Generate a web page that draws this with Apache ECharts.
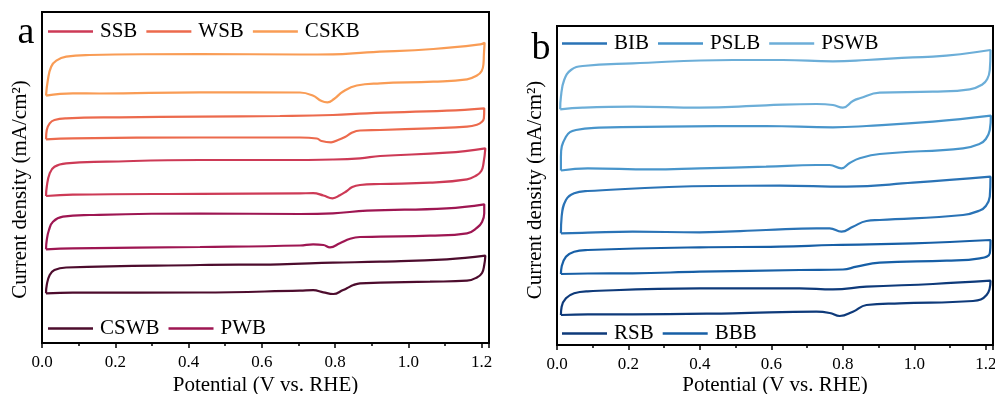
<!DOCTYPE html>
<html><head><meta charset="utf-8">
<script src="https://cdn.jsdelivr.net/npm/echarts@6/dist/echarts.min.js"></script>
<style>html,body{margin:0;padding:0;background:#fff}#c{width:995px;height:394px}</style>
</head><body><div id="c"></div>
<script>
// Potential (V vs. RHE), current density (arbitrary offset units)
const CSKB = [[0.011,247.3],[0.016,263],[0.025,276.3],[0.039,282.3],[0.066,286.3],[0.130,288],[0.431,289],[0.704,288.5],[0.794,288.7],[0.887,290.7],[1.068,294],[1.196,298.7],[1.208,300.3],[1.206,288],[1.205,279.7],[1.200,272],[1.187,267.5],[1.160,263.7],[1.068,261.3],[0.923,259.7],[0.859,257.5],[0.822,251.5],[0.797,244],[0.779,240.7],[0.763,242],[0.739,247.5],[0.704,250.5],[0.431,250.7],[0.157,249.5],[0.084,249.7],[0.011,247.3]];
const WSB = [[0.011,203.7],[0.013,213],[0.021,219.7],[0.034,223],[0.066,224.7],[0.212,225.7],[0.431,226.3],[0.649,227],[0.794,228],[0.887,229.7],[1.105,232.3],[1.207,234.7],[1.206,224.7],[1.200,221],[1.187,218.3],[1.160,216.3],[1.059,214.7],[0.923,213],[0.868,212.5],[0.847,210.5],[0.827,206],[0.808,203],[0.789,200.7],[0.763,202],[0.750,204.5],[0.704,205.5],[0.431,205.5],[0.084,204.7],[0.011,203.7]];
const SSB = [[0.011,147],[0.013,156.3],[0.021,169.7],[0.034,176.3],[0.066,179.7],[0.176,181.3],[0.431,183],[0.649,183],[0.794,183.5],[0.868,184.7],[0.923,187],[1.105,190.3],[1.210,194.7],[1.205,179.7],[1.199,172],[1.185,167.5],[1.160,163.7],[1.059,160.3],[0.923,159],[0.868,158],[0.847,156],[0.830,151.5],[0.813,147.7],[0.793,144.7],[0.768,147.5],[0.740,149.8],[0.704,149.7],[0.431,149.2],[0.084,148.3],[0.011,147]];
const PWB = [[0.011,93.7],[0.013,103],[0.019,113],[0.030,121.3],[0.057,126.3],[0.130,128],[0.431,129.5],[0.704,129],[0.794,129.7],[0.887,132.3],[1.105,134.7],[1.207,138.7],[1.207,129.7],[1.201,121],[1.188,115.5],[1.160,109.7],[1.059,107.3],[0.923,106.3],[0.868,106],[0.841,104.2],[0.813,99.7],[0.786,95.7],[0.768,98],[0.740,98.7],[0.704,97.5],[0.431,96],[0.084,94.7],[0.011,93.7]];
const CSWB = [[0.011,49.7],[0.013,58],[0.021,68],[0.034,73],[0.066,75.5],[0.431,78],[0.649,78.7],[0.794,80.3],[0.923,81.3],[1.105,83.7],[1.210,87.3],[1.207,78],[1.201,70],[1.188,65.8],[1.160,62.3],[1.059,61.3],[0.923,60.3],[0.868,59.7],[0.850,58],[0.832,54.7],[0.822,53],[0.795,49],[0.768,50.7],[0.740,52.8],[0.704,52.3],[0.431,50.5],[0.084,50.3],[0.011,49.7]];

const PSWB = [[0.009,235.7],[0.011,248.3],[0.020,265],[0.039,275],[0.072,279],[0.212,281.7],[0.492,285],[0.632,285],[0.772,283.7],[0.866,285],[0.996,287.7],[1.052,288.3],[1.213,295],[1.211,275],[1.204,266],[1.190,260.5],[1.155,255.7],[1.052,253.3],[0.903,252.3],[0.847,246.7],[0.828,244],[0.800,237.3],[0.772,240],[0.726,241],[0.585,239.7],[0.399,237.3],[0.212,238.3],[0.072,237.3],[0.009,235.7]];
const PSLB = [[0.011,174.5],[0.011,188.3],[0.025,208.3],[0.053,215],[0.118,217.3],[0.305,218.3],[0.585,219],[0.772,217.7],[0.866,219],[1.052,223.3],[1.214,229.3],[1.211,215],[1.200,206],[1.183,201.2],[1.136,196.7],[0.903,191],[0.847,186.7],[0.819,182],[0.796,176.7],[0.763,180],[0.726,180],[0.585,178.3],[0.399,176.7],[0.263,175.7],[0.086,176.7],[0.011,174.5]];
const BIB = [[0.011,111.7],[0.013,128.3],[0.025,145],[0.048,151.7],[0.086,154],[0.441,159],[0.623,159.3],[0.810,158.3],[0.996,162.3],[1.213,168.3],[1.211,148.3],[1.200,139],[1.183,134.5],[1.136,130],[0.903,125],[0.866,124],[0.828,118.3],[0.796,113.3],[0.763,116.7],[0.726,116.7],[0.585,115],[0.399,112.7],[0.212,113.3],[0.086,112.3],[0.011,111.7]];
const BBB = [[0.011,71],[0.013,78.3],[0.025,88.3],[0.048,93.3],[0.086,95],[0.399,97.7],[0.623,98.3],[0.772,100],[0.996,101.7],[1.213,105],[1.211,91.7],[1.183,86.7],[1.090,84.3],[0.903,82.3],[0.838,78.3],[0.800,75.5],[0.679,75],[0.399,73.3],[0.212,71.7],[0.086,71.5],[0.011,71]];
const RSB = [[0.011,30],[0.013,38.3],[0.025,46.7],[0.048,51.7],[0.086,53.7],[0.399,56.7],[0.679,56.7],[0.772,55.7],[0.866,58.3],[1.052,61],[1.213,64.3],[1.202,50],[1.164,44],[0.959,41.7],[0.866,40],[0.828,33.3],[0.791,29],[0.763,32],[0.726,33.3],[0.492,31.7],[0.212,30.7],[0.086,30.7],[0.011,30]];

const potentialMin = 0, potentialMax = 1.22, potentialStep = 0.2;
const legendATop = ['SSB','WSB','CSKB'], legendABottom = ['CSWB','PWB'];
const legendBTop = ['BIB','PSLB','PSWB'], legendBBottom = ['RSB','BBB'];
const panelA = {names:['CSKB','WSB','SSB','PWB','CSWB'], data:[CSKB,WSB,SSB,PWB,CSWB], colors:['#F99C55','#EC6A4D','#CD3A56','#9E1652','#4D0C2D']};
const panelB = {names:['PSWB','PSLB','BIB','BBB','RSB'], data:[PSWB,PSLB,BIB,BBB,RSB], colors:['#6CAED8','#4895CB','#2A73B6','#175FA6','#0E3A7A']};

const FONT = '"Liberation Serif","Times New Roman",serif';
const chart = echarts.init(document.getElementById('c'), null, {renderer:'canvas'});

function xAx(idx){
  return {gridIndex:idx,type:'value',min:potentialMin,max:potentialMax,interval:potentialStep,
    name:'Potential (V vs. RHE)',nameLocation:'middle',nameGap:idx===0?31.5:29.5,nameMoveOverlap:false,
    nameTextStyle:{fontFamily:FONT,fontSize:21,color:'#000'},
    axisLine:{show:true,onZero:false,lineStyle:{color:'#000',width:2}},
    axisTick:{show:true,inside:false,length:5,lineStyle:{color:'#000',width:1.5}},
    minorTick:{show:true,splitNumber:2,length:3,lineStyle:{color:'#000',width:1.5}},
    splitLine:{show:false},
    axisLabel:{fontFamily:FONT,fontSize:17,color:'#000',margin:11,showMaxLabel:false,formatter:v=>v.toFixed(1)}};
}
function yAx(idx,max){
  return {gridIndex:idx,type:'value',min:0,max:max,axisLine:{show:false},axisTick:{show:false},axisLabel:{show:false},splitLine:{show:false}};
}
function legend(data,left,top){
  return {data:data,left:left,top:top,orient:'horizontal',icon:'rect',itemWidth:45,itemHeight:2.5,itemGap:9,padding:0,
    textStyle:{fontFamily:FONT,fontSize:21,color:'#000',padding:[0,0,0,2]}};
}
const series = [];
[panelA,panelB].forEach((p,gi)=>{
  p.names.forEach((n,i)=>{
    series.push({name:n,type:'line',xAxisIndex:gi,yAxisIndex:gi,data:p.data[i],smooth:0.45,symbol:'none',
      color:p.colors[i],lineStyle:{width:2.2,color:p.colors[i]},z:3});
  });
});

chart.setOption({
  animation:false,
  backgroundColor:'#fff',
  grid:[{left:42,top:12,width:447,height:331,show:true,borderColor:'#000',borderWidth:2,backgroundColor:'transparent',outerBoundsMode:'none',containLabel:false},
        {left:557,top:26,width:436,height:319,show:true,borderColor:'#000',borderWidth:2,backgroundColor:'transparent',outerBoundsMode:'none',containLabel:false}],
  xAxis:[xAx(0),xAx(1)],
  yAxis:[yAx(0,331),yAx(1,319)],
  legend:[legend(legendATop,48,21),legend(legendABottom,48,318),legend(legendBTop,562,33),legend(legendBBottom,562,323)],
  graphic:[
    {type:'text',x:26,y:33,style:{text:'a',font:'38px '+FONT,fill:'#000',textAlign:'center',textVerticalAlign:'middle'}},
    {type:'text',x:541,y:49,style:{text:'b',font:'38px '+FONT,fill:'#000',textAlign:'center',textVerticalAlign:'middle'}},
    {type:'text',x:20.5,y:189.5,rotation:Math.PI/2,style:{text:'Current density (mA/cm\u00B2)',font:'21px '+FONT,fill:'#000',textAlign:'center',textVerticalAlign:'middle'}},
    {type:'text',x:535.5,y:190,rotation:Math.PI/2,style:{text:'Current density (mA/cm\u00B2)',font:'21px '+FONT,fill:'#000',textAlign:'center',textVerticalAlign:'middle'}}
  ],
  series:series
});
</script></body></html>
